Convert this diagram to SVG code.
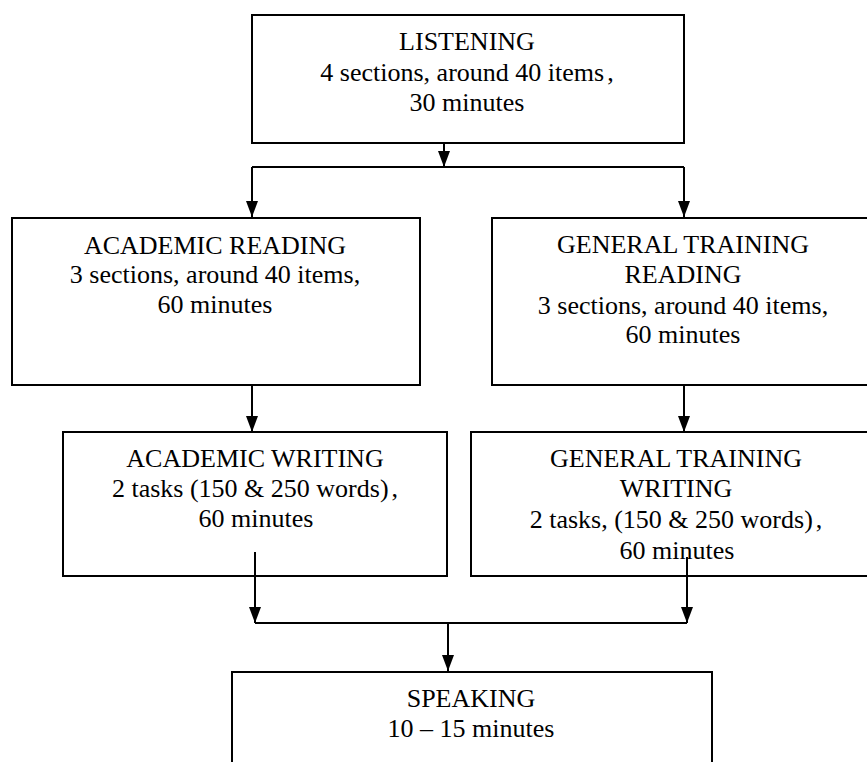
<svg xmlns="http://www.w3.org/2000/svg" width="867" height="762" viewBox="0 0 867 762">
<style>
.box{fill:#fff;stroke:#000;stroke-width:2}
.t{font-family:'Liberation Serif','Times New Roman',Tinos,'Nimbus Roman','DejaVu Serif',serif;font-size:26px;fill:#000;text-anchor:middle}
.c{fill:none;stroke:#000;stroke-width:2}
</style>
<defs>
<marker id="ah" markerUnits="userSpaceOnUse" viewBox="0 0 16 12" refX="16" refY="6" markerWidth="16" markerHeight="12" orient="auto">
<path d="M0,0 L16,6 L0,12 z" fill="#000"/>
</marker>
</defs>
<rect width="867" height="762" fill="#fff"/>
<g id="listening">
<rect class="box" x="252" y="15" width="432" height="128"/>
<text class="t" x="467" y="50">LISTENING</text>
<text class="t" x="467" y="81">4 sections, around 40 items<tspan dx="3">,</tspan></text>
<text class="t" x="467" y="111">30 minutes</text>
</g>
<g id="academic-reading">
<rect class="box" x="12" y="218" width="408" height="167"/>
<text class="t" x="215" y="254">ACADEMIC READING</text>
<text class="t" x="215" y="283">3 sections, around 40 items,</text>
<text class="t" x="215" y="313">60 minutes</text>
</g>
<g id="general-reading">
<rect class="box" x="492" y="218" width="382" height="167"/>
<text class="t" x="683" y="253">GENERAL TRAINING</text>
<text class="t" x="683" y="283">READING</text>
<text class="t" x="683" y="314">3 sections, around 40 items,</text>
<text class="t" x="683" y="343">60 minutes</text>
</g>
<g id="academic-writing">
<rect class="box" x="63" y="432" width="384" height="144"/>
<text class="t" x="255" y="467">ACADEMIC WRITING</text>
<text class="t" x="255" y="497">2 tasks (150 &amp; 250 words)<tspan dx="3">,</tspan></text>
<text class="t" x="256" y="527">60 minutes</text>
</g>
<g id="general-writing">
<rect class="box" x="471" y="432" width="410" height="144"/>
<text class="t" x="676" y="467">GENERAL TRAINING</text>
<text class="t" x="676" y="497">WRITING</text>
<text class="t" x="676" y="528">2 tasks, (150 &amp; 250 words)<tspan dx="3">,</tspan></text>
<text class="t" x="677" y="559">60 minutes</text>
</g>
<g id="speaking">
<rect class="box" x="232" y="672" width="480" height="100"/>
<text class="t" x="471" y="707">SPEAKING</text>
<text class="t" x="471" y="737">10 – 15 minutes</text>
</g>
<g id="connectors">
<line class="c" x1="444" y1="143" x2="444" y2="167" marker-end="url(#ah)"/>
<line class="c" x1="252" y1="167" x2="684" y2="167"/>
<line class="c" x1="252" y1="167" x2="252" y2="217" marker-end="url(#ah)"/>
<line class="c" x1="684" y1="167" x2="684" y2="217" marker-end="url(#ah)"/>
<line class="c" x1="252" y1="385" x2="252" y2="432" marker-end="url(#ah)"/>
<line class="c" x1="684" y1="386" x2="684" y2="432" marker-end="url(#ah)"/>
<line class="c" x1="255" y1="552" x2="255" y2="623" marker-end="url(#ah)"/>
<line class="c" x1="687" y1="557" x2="687" y2="623" marker-end="url(#ah)"/>
<line class="c" x1="255" y1="623" x2="687" y2="623"/>
<line class="c" x1="448" y1="623" x2="448" y2="671" marker-end="url(#ah)"/>
</g>
</svg>
